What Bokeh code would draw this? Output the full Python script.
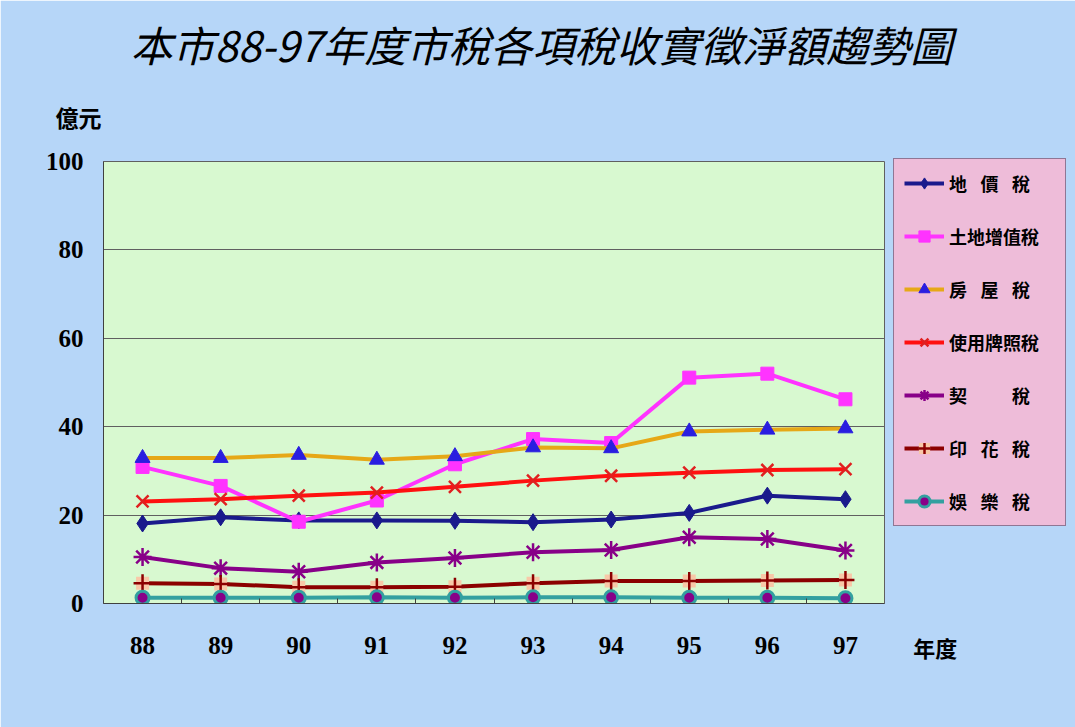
from bokeh.plotting import figure
from bokeh.models import (Legend, LegendItem, Label, LinearAxis, CategoricalAxis, Title,
                          Range1d, FactorRange, FixedTicker)
from bokeh.embed import file_html
from bokeh.resources import INLINE

years = ["88", "89", "90", "91", "92", "93", "94", "95", "96", "97"]
land_value_tax = [18.1, 19.5, 18.8, 18.8, 18.7, 18.4, 19.0, 20.5, 24.4, 23.6]
land_increment_tax = [30.9, 26.6, 18.5, 23.3, 31.5, 37.2, 36.3, 51.1, 52.0, 46.2]
house_tax = [32.9, 32.9, 33.6, 32.5, 33.3, 35.3, 35.1, 38.9, 39.3, 39.6]
license_tax = [23.1, 23.6, 24.4, 25.1, 26.4, 27.8, 28.9, 29.6, 30.2, 30.4]
deed_tax = [10.5, 8.0, 7.2, 9.3, 10.3, 11.6, 12.1, 15.0, 14.6, 12.0]
stamp_tax = [4.6, 4.4, 3.7, 3.7, 3.8, 4.6, 5.1, 5.1, 5.2, 5.3]
amusement_tax = [1.3, 1.3, 1.3, 1.4, 1.3, 1.4, 1.4, 1.3, 1.3, 1.2]
y_ticks = [0, 20, 40, 60, 80, 100]

title_text = "本市88-97年度市稅各項稅收實徵淨額趨勢圖"
legend_labels = ["地\u2002\u2005價\u2002\u2005稅", "土地增值稅", "房\u2002\u2005屋\u2002\u2005稅",
                 "使用牌照稅", "契\u2002\u2005\u3000\u2002\u2005稅", "印\u2002\u2005花\u2002\u2005稅",
                 "娛\u2002\u2005樂\u2002\u2005稅"]

CJK = "Noto Sans CJK TC"
NUM = "Liberation Serif"

p = figure(x_range=FactorRange(*years, range_padding=0), y_range=Range1d(0, 100),
           frame_width=781, frame_height=442,
           min_border_left=103, min_border_right=191, min_border_top=161, min_border_bottom=124,
           x_axis_location=None, y_axis_location=None,
           output_backend="svg", toolbar_location=None, tools="")
p.border_fill_color = "#b6d6f8"
p.background_fill_color = "#d8f9d0"
p.outline_line_color = "#606060"
p.outline_line_width = 1

# titles in the top panel (nearest the frame first)
unit = Title(text="億元", align="left", offset=-48, standoff=56,
             text_font=CJK, text_font_style="bold", text_font_size="23px", text_color="#000000")
p.add_layout(unit, "above")
main_title = Title(text=title_text, align="left", offset=27, standoff=-8,
                   text_font=CJK, text_font_style="italic", text_font_size="42px",
                   text_color="#000000")
p.add_layout(main_title, "above")

# y axis
yax = LinearAxis(ticker=FixedTicker(ticks=y_ticks))
yax.axis_line_color = "#404040"
yax.major_tick_out = 0
yax.major_tick_in = 0
yax.minor_tick_line_color = None
yax.major_label_text_font = NUM
yax.major_label_text_font_style = "bold"
yax.major_label_text_font_size = "25px"
yax.major_label_text_color = "#000000"
yax.major_label_standoff = 20
p.add_layout(yax, "left")

# boundary tick axis (between categories, synthetic coordinates), no labels
bax = LinearAxis(ticker=FixedTicker(ticks=list(range(1, len(years)))))
bax.axis_line_color = "#404040"
bax.major_tick_in = 5
bax.major_tick_out = 0
bax.major_tick_line_color = "#404040"
bax.minor_tick_line_color = None
bax.major_label_text_color = None
bax.major_label_standoff = 0
p.add_layout(bax, "below")

xax = CategoricalAxis()
xax.axis_line_color = None
xax.major_tick_line_color = None
xax.major_label_text_font = NUM
xax.major_label_text_font_style = "bold"
xax.major_label_text_font_size = "25px"
xax.major_label_text_color = "#000000"
xax.major_label_standoff = 27
p.add_layout(xax, "below")

xlab = Label(x=10.65, y=-9.8, text="年度", text_font=CJK, text_font_style="bold",
             text_font_size="22px", text_align="center", text_baseline="middle", text_color="#000000")
p.add_layout(xlab, "below")

p.xgrid.visible = False
p.ygrid.ticker = FixedTicker(ticks=[20, 40, 60, 80])
p.ygrid.grid_line_color = "#606060"
p.ygrid.grid_line_width = 1

LW = 4
items = []

r1 = p.line(years, land_value_tax, line_color="#1a1a8c", line_width=LW)
m1 = p.scatter(years, land_value_tax, marker="diamond", size=17, fill_color="#1a1a8c", line_color="#1a1a8c")
items.append(LegendItem(label=legend_labels[0], renderers=[r1, m1]))

r2 = p.line(years, land_increment_tax, line_color="#ff33ff", line_width=LW)
m2 = p.scatter(years, land_increment_tax, marker="square", size=13, fill_color="#ff33ff", line_color="#ff33ff")
items.append(LegendItem(label=legend_labels[1], renderers=[r2, m2]))

r3 = p.line(years, house_tax, line_color="#e6a817", line_width=LW)
m3 = p.scatter(years, house_tax, marker="triangle", size=15, fill_color="#2a1ee0", line_color="#2a1ee0")
items.append(LegendItem(label=legend_labels[2], renderers=[r3, m3]))

r4 = p.line(years, license_tax, line_color="#ff1010", line_width=LW)
m4 = p.scatter(years, license_tax, marker="x", size=17, line_color="#e02020", line_width=2.5)
items.append(LegendItem(label=legend_labels[3], renderers=[r4, m4]))

r5 = p.line(years, deed_tax, line_color="#880088", line_width=LW)
m5 = p.scatter(years, deed_tax, marker="asterisk", size=18, line_color="#880088", line_width=2.5)
items.append(LegendItem(label=legend_labels[4], renderers=[r5, m5]))

r6 = p.line(years, stamp_tax, line_color="#8b0000", line_width=LW)
b6 = p.scatter(years, stamp_tax, marker="square", size=13, fill_color="#f8c8a8", line_color=None)
m6 = p.scatter(years, stamp_tax, marker="cross", size=18, line_color="#8b0000", line_width=2.5)
items.append(LegendItem(label=legend_labels[5], renderers=[r6, b6, m6]))

r7 = p.line(years, amusement_tax, line_color="#33a0a0", line_width=LW)
m7 = p.scatter(years, amusement_tax, marker="circle", size=13, fill_color="#880088",
               line_color="#33a0a0", line_width=3)
items.append(LegendItem(label=legend_labels[6], renderers=[r7, m7]))

legend = Legend(items=items, location=(9, 77))
legend.background_fill_color = "#eebcd9"
legend.background_fill_alpha = 1
legend.border_line_color = "#303050"
legend.border_line_width = 1.5
legend.padding = 10
legend.spacing = 25
legend.glyph_width = 40
legend.glyph_height = 28
legend.label_height = 20
legend.label_width = 106
legend.label_standoff = 5
legend.margin = 0
legend.label_text_font = CJK
legend.label_text_font_style = "bold"
legend.label_text_font_size = "18px"
legend.label_text_color = "#000000"
p.add_layout(legend, "right")

open("out.html", "w").write(file_html(p, INLINE))
